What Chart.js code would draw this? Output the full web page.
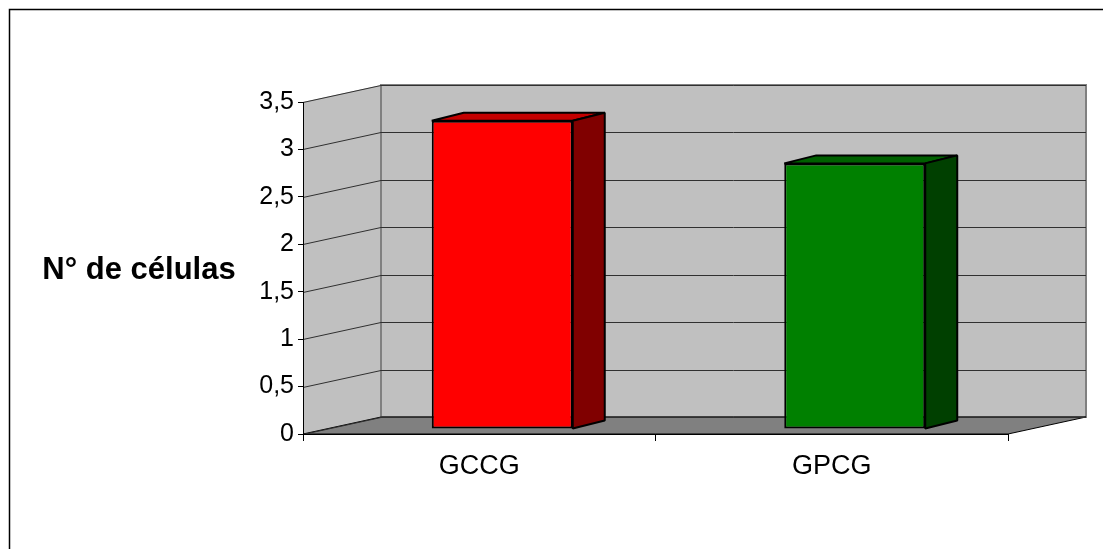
<!DOCTYPE html>
<html>
<head>
<meta charset="utf-8">
<script src="https://cdn.jsdelivr.net/npm/chart.js@4.4.1/dist/chart.umd.min.js"></script>
<style>
  html, body { margin: 0; padding: 0; background: #fff; }
  canvas { display: block; }
</style>
</head>
<body>
<canvas id="c" width="1103" height="549"></canvas>
<script>
// Data
const categories = ['GCCG', 'GPCG'];
const cellCounts = [3.25, 2.8];
const yTickLabels = ['0', '0,5', '1', '1,5', '2', '2,5', '3', '3,5'];
const yAxisTitle = 'N° de células';

// Bar colours: front face, side face, top face
const frontColors = ['#ff0000', '#008000'];
const sideColors = ['#800000', '#004000'];
const topColors = ['#c40000', '#006000'];

const FONT = '"Liberation Sans", Arial, sans-serif';
const WALL_DX = 78, WALL_DY = -17;      // depth of the walls / floor
const BAR_DX = 23, BAR_DY = -5;         // bar fronts sit a little inside the floor
const BAR_DEPTH_X = 32, BAR_DEPTH_Y = -8;

function poly(ctx, pts, fill, stroke, lw) {
  ctx.beginPath();
  ctx.moveTo(pts[0][0], pts[0][1]);
  for (let i = 1; i < pts.length; i++) ctx.lineTo(pts[i][0], pts[i][1]);
  ctx.closePath();
  if (fill) { ctx.fillStyle = fill; ctx.fill(); }
  if (stroke) { ctx.strokeStyle = stroke; ctx.lineWidth = lw || 1; ctx.stroke(); }
}

const depthPlugin = {
  id: 'depth3d',
  beforeDraw(chart) {
    const ctx = chart.ctx;
    const { left, right } = chart.chartArea;
    const y = chart.scales.y;
    const yTop = y.getPixelForValue(y.max);
    const yBot = y.getPixelForValue(y.min);
    ctx.save();
    ctx.fillStyle = '#ffffff';
    ctx.fillRect(0, 0, chart.width, chart.height);

    // outer frame
    ctx.strokeStyle = '#000';
    ctx.lineWidth = 1.5;
    ctx.strokeRect(9.5, 9.5, chart.width + 20, chart.height + 20);

    // side wall
    poly(ctx, [[left, yTop], [left + WALL_DX, yTop + WALL_DY],
               [left + WALL_DX, yBot + WALL_DY], [left, yBot]], '#c0c0c0');

    // back wall
    const bx = left + WALL_DX, by = yTop + WALL_DY;
    ctx.fillStyle = '#c0c0c0';
    ctx.fillRect(bx, by, right - left, yBot - yTop);
    ctx.strokeStyle = '#808080';
    ctx.lineWidth = 2;
    ctx.strokeRect(bx, by, right - left, yBot - yTop);

    // floor
    poly(ctx, [[left, yBot], [right, yBot], [right + WALL_DX, yBot + WALL_DY],
               [left + WALL_DX, yBot + WALL_DY]], '#808080', '#000', 1);

    // gridlines on side and back walls
    ctx.strokeStyle = '#303030';
    ctx.lineWidth = 1;
    y.ticks.forEach(t => {
      const py = Math.round(y.getPixelForValue(t.value)) + 0.5;
      ctx.beginPath();
      ctx.moveTo(left, py);
      ctx.lineTo(left + WALL_DX, py + WALL_DY);
      ctx.lineTo(right + WALL_DX, py + WALL_DY);
      ctx.stroke();
    });
    ctx.restore();
  },
  beforeDatasetsDraw(chart) {
    const ctx = chart.ctx;
    const meta = chart.getDatasetMeta(0);
    ctx.save();
    ctx.lineJoin = 'bevel';
    meta.data.forEach((bar, i) => {
      const p = bar.getProps(['x', 'y', 'base', 'width'], true);
      const l = p.x - p.width / 2 + BAR_DX;
      const r = p.x + p.width / 2 + BAR_DX;
      const t = p.y + BAR_DY;
      const b = p.base + BAR_DY;
      poly(ctx, [[l, t], [r, t], [r + BAR_DEPTH_X, t + BAR_DEPTH_Y], [l + BAR_DEPTH_X, t + BAR_DEPTH_Y]],
           topColors[i], '#000', 2);
      poly(ctx, [[r, t], [r + BAR_DEPTH_X, t + BAR_DEPTH_Y], [r + BAR_DEPTH_X, b + BAR_DEPTH_Y], [r, b]],
           sideColors[i], '#000', 2);
    });
    ctx.restore();
    ctx.save();
    ctx.translate(BAR_DX, BAR_DY);
  },
  afterDatasetsDraw(chart) {
    chart.ctx.restore();
  },
  afterDraw(chart) {
    const ctx = chart.ctx;
    ctx.save();
    ctx.fillStyle = '#000';
    ctx.font = 'bold 31px ' + FONT;
    ctx.textAlign = 'center';
    ctx.textBaseline = 'alphabetic';
    ctx.fillText(yAxisTitle, 139, 279);
    ctx.restore();
  }
};

new Chart(document.getElementById('c'), {
  type: 'bar',
  data: {
    labels: categories,
    datasets: [{
      data: cellCounts,
      backgroundColor: frontColors,
      borderColor: '#000',
      borderWidth: 2,
      borderSkipped: false,
      barPercentage: 0.4,
      categoryPercentage: 1.0,
      clip: false
    }]
  },
  plugins: [depthPlugin],
  options: {
    responsive: false,
    animation: false,
    events: [],
    layout: { padding: { top: 102, right: 95, left: 0, bottom: 0 } },
    plugins: {
      legend: { display: false },
      tooltip: { enabled: false },
      title: { display: false }
    },
    scales: {
      x: {
        offset: true,
        grid: { display: true, drawOnChartArea: false, offset: true, tickLength: 7, color: '#000' },
        border: { display: true, color: '#000', width: 1 },
        ticks: { font: { family: FONT, size: 27 }, color: '#000', padding: 9 },
        afterFit: s => { s.height = 115; }
      },
      y: {
        min: 0,
        max: 3.5,
        grid: { display: true, drawOnChartArea: false, tickLength: 5, color: '#000' },
        border: { display: true, color: '#000', width: 1 },
        ticks: {
          stepSize: 0.5,
          font: { family: FONT, size: 25 },
          color: '#000',
          padding: 4,
          callback: (v, i) => yTickLabels[i]
        },
        afterFit: s => { s.width = 303; }
      }
    }
  }
});
</script>
</body>
</html>
